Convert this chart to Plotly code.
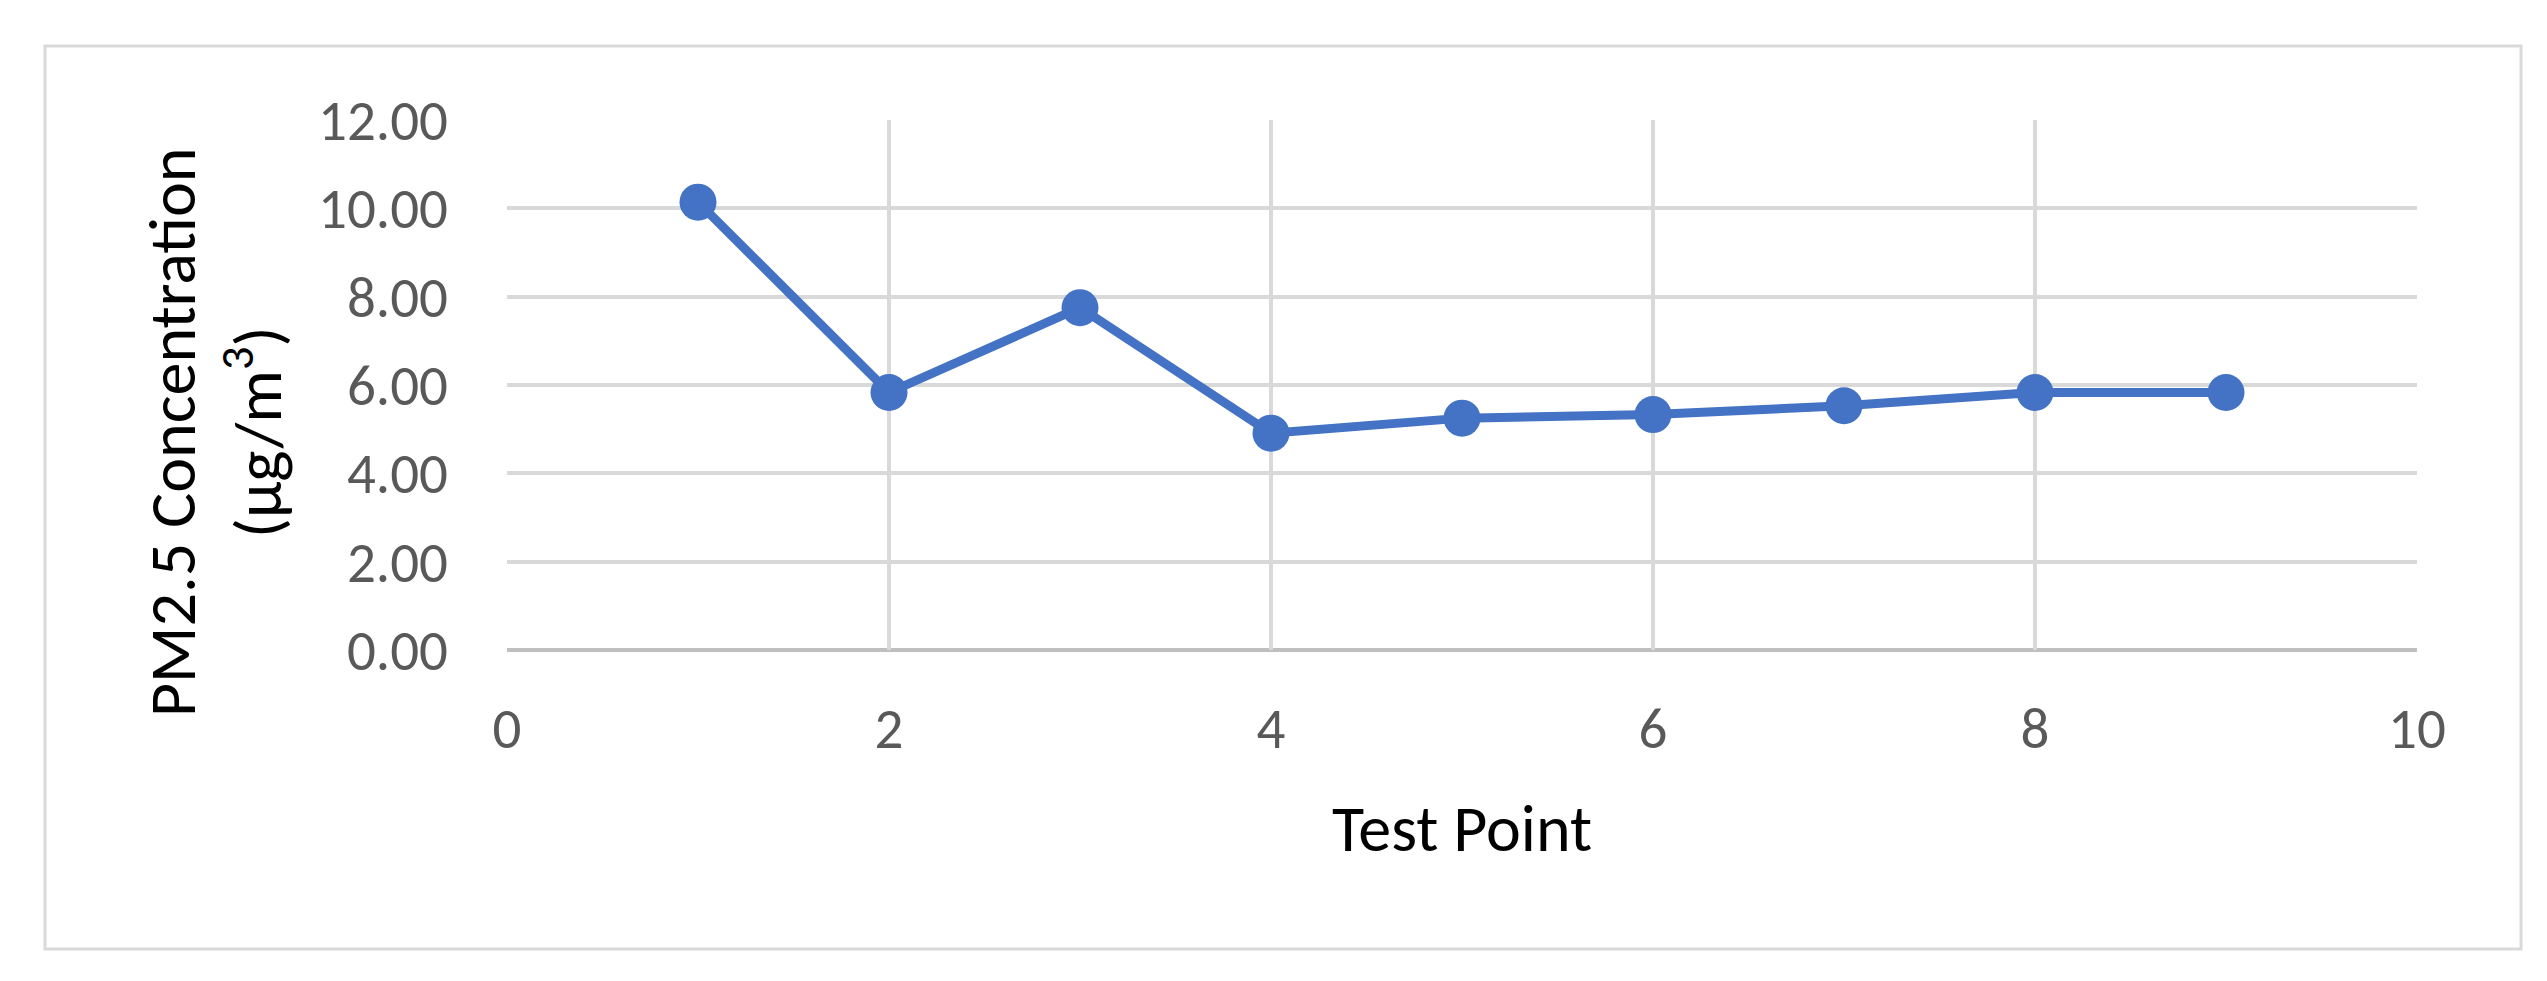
import plotly.graph_objects as go

test_points = [1, 2, 3, 4, 5, 6, 7, 8, 9]
pm25 = [10.14, 5.83, 7.75, 4.91, 5.25, 5.33, 5.53, 5.83, 5.83]
x_title = "Test Point"
y_title = "PM2.5 Concentration<br>(µg/m<sup>3</sup>)"

W, H = 2547, 981
L, R, T, B = 499, 2409, 112, 642
FONT = "Carlito, Calibri, Lato, sans-serif"

def px_x(p):
    return (p - L) / (R - L)

def px_y(p):
    return (B - p) / (B - T)

fig = go.Figure()
fig.add_trace(go.Scatter(
    x=test_points, y=pm25, mode="lines+markers",
    line=dict(color="#4472C4", width=9),
    marker=dict(color="#4472C4", size=37, line=dict(width=0)),
    showlegend=False, cliponaxis=False,
))

fig.update_layout(
    width=W, height=H,
    margin=dict(l=L, r=W - R, t=T, b=H - B),
    paper_bgcolor="white", plot_bgcolor="white",
    font=dict(family=FONT, color="#595959", size=57),
    xaxis=dict(range=[0, 10], dtick=2, tick0=0, showgrid=True, gridcolor="#d9d9d9", gridwidth=4,
               zeroline=False, showline=False, ticks="", ticklabelstandoff=40,
               tickfont=dict(size=57, color="#595959", family=FONT)),
    yaxis=dict(range=[0, 12], dtick=2, tick0=0, tickformat=".2f", showgrid=True, gridcolor="#d9d9d9",
               gridwidth=4, zeroline=False, showline=False, ticks="", ticklabelstandoff=58,
               tickfont=dict(size=57, color="#595959", family=FONT)),
    shapes=[
        dict(type="rect", xref="paper", yref="paper", x0=px_x(37), x1=px_x(2513), y0=px_y(941), y1=px_y(38),
             line=dict(color="#d9d9d9", width=3), fillcolor="rgba(0,0,0,0)", layer="below"),
        dict(type="line", xref="paper", yref="paper", x0=0, x1=1, y0=0, y1=0,
             line=dict(color="#bfbfbf", width=4), layer="below"),
    ],
    annotations=[
        dict(text=x_title, xref="paper", yref="paper", x=0.5, y=px_y(820), xanchor="center", yanchor="middle",
             showarrow=False, font=dict(size=66, color="black", family=FONT)),
        dict(text=y_title, xref="paper", yref="paper", x=px_x(207), y=px_y(424), xanchor="center",
             yanchor="middle", textangle=-90, showarrow=False, font=dict(size=66, color="black", family=FONT)),
    ],
)

fig.write_html("out.html")
